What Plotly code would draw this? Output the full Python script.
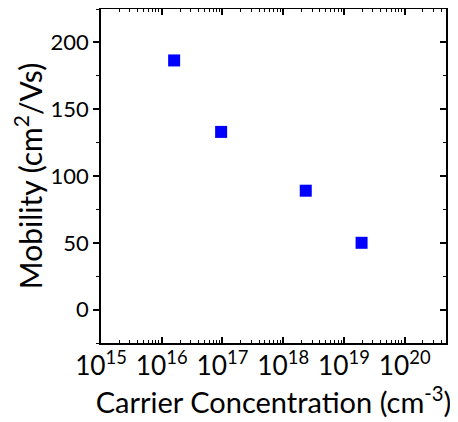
import plotly.graph_objects as go

# Data
carrier_conc = [1.6e16, 9.5e16, 2.35e18, 1.95e19]   # cm^-3
mobility = [186.5, 133.0, 89.0, 50.0]               # cm^2/Vs

FONT = "Lato"

fig = go.Figure()
fig.add_trace(go.Scatter(
    x=carrier_conc, y=mobility, mode="markers",
    marker=dict(symbol="square", size=12, color="#0000FF", line=dict(width=0)),
    showlegend=False,
))
# invisible trace to activate the mirrored right axis
fig.add_trace(go.Scatter(
    x=carrier_conc, y=mobility, mode="markers", yaxis="y2",
    marker=dict(opacity=0), showlegend=False, hoverinfo="skip",
))

# page body has an 8px margin, so the figure is 8px smaller and shifted
fig.update_layout(
    width=450, height=414,
    margin=dict(l=93, r=12, t=1, b=79),
    paper_bgcolor="white", plot_bgcolor="white",
    font=dict(family=FONT, color="black", size=22),
    xaxis=dict(
        type="log", range=[15, 20.68], automargin=False, tickangle=0,
        tickmode="linear", tick0=0, dtick=1, exponentformat="power",
        ticks="inside", ticklen=6, tickwidth=1.5, tickcolor="black",
        minor=dict(dtick="D1", ticks="inside", ticklen=3, tickwidth=1.2, tickcolor="black", showgrid=False),
        showline=True, linewidth=1.5, linecolor="black", mirror="ticks",
        showgrid=False, zeroline=False,
        tickfont=dict(size=21),
        title=dict(text="Carrier Concentration (cm<sup>-3</sup>)", font=dict(size=29), standoff=10),
    ),
    yaxis=dict(
        range=[-25, 225], tickmode="linear", tick0=0, dtick=50, automargin=False,
        ticks="outside", ticklen=6, tickwidth=1.5, tickcolor="black",
        minor=dict(dtick=25, ticks="outside", ticklen=3, tickwidth=1.2, tickcolor="black", showgrid=False),
        showline=True, linewidth=1.5, linecolor="black",
        showgrid=False, zeroline=False,
        tickfont=dict(size=22),
        title=dict(text="Mobility (cm<sup>2</sup>/Vs)", font=dict(size=30), standoff=11),
    ),
    yaxis2=dict(
        overlaying="y", side="right", range=[-25, 225], tickmode="linear", tick0=0, dtick=50,
        automargin=False,
        ticks="inside", ticklen=6, tickwidth=1.5, tickcolor="black",
        minor=dict(dtick=25, ticks="inside", ticklen=3, tickwidth=1.2, tickcolor="black", showgrid=False),
        showline=True, linewidth=1.5, linecolor="black",
        showgrid=False, zeroline=False, showticklabels=False,
    ),
)

fig.write_html("out.html")
